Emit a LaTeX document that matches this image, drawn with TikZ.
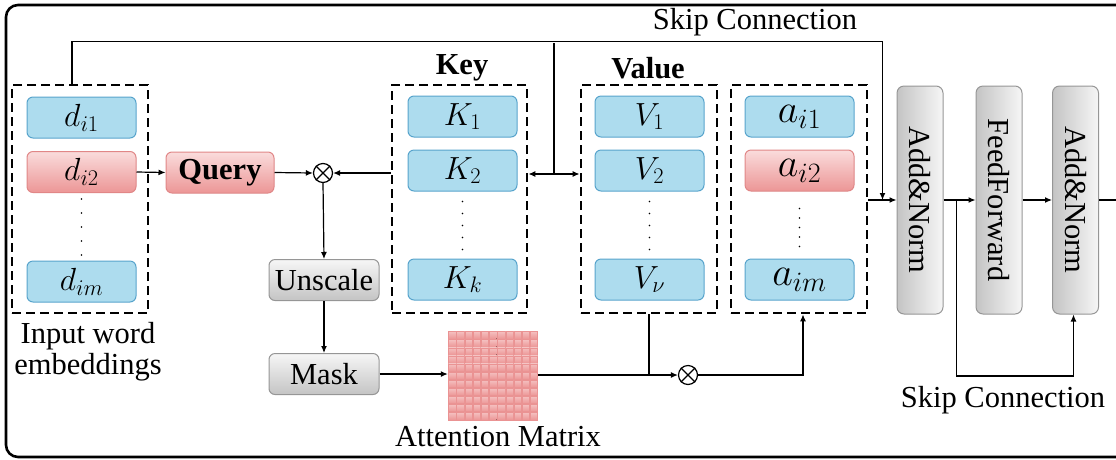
\RequirePackage{fix-cm}
\documentclass[tikz,border=0pt]{standalone}
\usepackage[no-math]{fontspec}
\setmainfont{Liberation Serif}
\usetikzlibrary{arrows.meta,shapes}

\definecolor{embfill}{RGB}{173,220,238}
\definecolor{embline}{RGB}{88,164,204}
\definecolor{qtop}{RGB}{250,220,220}
\definecolor{qbot}{RGB}{236,150,150}
\definecolor{qline}{RGB}{225,135,135}
\definecolor{gtop}{RGB}{246,246,246}
\definecolor{gbot}{RGB}{196,196,196}
\definecolor{gline}{RGB}{150,150,150}

\tikzset{
    every node/.style={font=\fontsize{30.5}{31}\selectfont},
    conn/.style={line width=1.2pt,-{Latex[length=7pt,width=6pt]}},
    wire/.style={line width=1.2pt},
    groupbox/.style={draw,line width=2.8pt,dash pattern=on 9pt off 5pt,
        minimum width=136pt,minimum height=228pt,inner sep=0pt},
    embbox/.style={draw=embline,fill=embfill,line width=1pt,rounded corners=6pt,
        minimum width=109pt,minimum height=41pt,inner sep=0pt,
        font=\fontsize{32}{34}\selectfont},
    hotbox/.style={embbox,draw=qline,top color=qtop,bottom color=qbot},
    opbox/.style={draw=gline,line width=1pt,rounded corners=6pt,top color=gtop,
        bottom color=gbot,minimum width=110pt,minimum height=41pt,inner sep=0pt},
    normbox/.style={draw=gline,line width=1pt,rounded corners=7pt,left color=gbot,
        right color=gtop,minimum width=46pt,minimum height=228pt,inner sep=0pt},
    mult/.style={draw,circle,line width=1.2pt,minimum size=19pt,inner sep=0pt},
    dotsline/.style={line width=1.8pt,line cap=round,dash pattern=on 0pt off 12pt},
}

\begin{document}
\begin{tikzpicture}[x=1pt,y=-1pt]

    \useasboundingbox (0,0) rectangle (1116,459);
    \draw[line width=2.6pt,rounded corners=12pt] (6,5) rectangle (1160,457);

    % groups
    \node[groupbox] (inbox) at (80,199) {};
    \node[groupbox,minimum width=135pt] (keybox) at (459.5,199) {};
    \node[groupbox] (valbox) at (649,199) {};
    \node[groupbox] (abox) at (799,199) {};

    \node[font=\fontsize{30.5}{31}\selectfont\bfseries] (keylbl) at (462,68) {Key};
    \node[font=\fontsize{30.5}{31}\selectfont\bfseries] (vallbl) at (648,68) {Value};
    \node[align=center] (inlbl) at (88,352) {Input word\\embeddings};

    % input word embeddings
    \node[embbox] (d1) at (81.5,117.5) {$d_{i1}$};
    \node[hotbox] (d2) at (81.5,172) {$d_{i2}$};
    \node[embbox] (dm) at (81.5,281.5) {$d_{im}$};
    \draw[dotsline,dash pattern=on 0pt off 14pt] ([yshift=-6pt]d2.south) -- ++(0,56.5);

    % keys
    \node[embbox] (k1) at (462.5,116.5) {$K_1$};
    \node[embbox] (k2) at (462.5,170.5) {$K_2$};
    \node[embbox] (kk) at (462.5,279.5) {$K_k$};
    \draw[dotsline] ([yshift=-10pt]k2.south) -- ++(0,48.5);

    % values
    \node[embbox] (v1) at (649.5,116.5) {$V_1$};
    \node[embbox] (v2) at (649.5,170.5) {$V_2$};
    \node[embbox] (vn) at (649.5,279.5) {$V_\nu$};
    \draw[dotsline] ([yshift=-10pt]v2.south) -- ++(0,48.5);

    % outputs
    \node[embbox,font=\fontsize{40}{42}\selectfont] (a1) at (799.5,116.5) {$a_{i1}$};
    \node[hotbox,font=\fontsize{40}{42}\selectfont] (a2) at (799.5,170.5) {$a_{i2}$};
    \node[embbox,font=\fontsize{40}{42}\selectfont] (am) at (799.5,279.5) {$a_{im}$};
    \draw[dotsline,dash pattern=on 0pt off 9.5pt] ([yshift=-17pt]a2.south) -- ++(0,38.2);

    % attention path
    \node[hotbox,minimum width=108pt,font=\fontsize{30.5}{31}\selectfont\bfseries] (query) at (220,172.5) {Query};
    \node[mult] (m1) at (323,173) {};
    \draw[line width=1.2pt] (m1.north west) -- (m1.south east) (m1.north east) -- (m1.south west);
    \node[opbox] (unscale) at (324,280) {Unscale};
    \node[opbox] (mask) at (324,374) {Mask};

    \node[minimum width=90pt,minimum height=89pt,inner sep=0pt] (attn) at (493,375.5) {};
    \foreach \i in {0,...,10}
        \foreach \j in {0,...,10}
            \filldraw[draw=qbot!80!qline,line width=0.4pt,top color=qtop!60!qbot,bottom color=qbot]
                (448.5+\i*8.18,331.5+\j*8.1) rectangle ++(7.3,7.2);
    \node (attnlbl) at (498,437) {Attention Matrix};

    \node[mult] (m2) at (688,375) {};
    \draw[line width=1.2pt] (m2.north west) -- (m2.south east) (m2.north east) -- (m2.south west);

    % add & norm, feed forward
    \node[normbox] (an1) at (920,200) {\rotatebox{-90}{Add\&Norm}};
    \node[normbox] (ff) at (999,200) {\rotatebox{-90}{FeedForward}};
    \node[normbox] (an2) at (1075.5,200) {\rotatebox{-90}{Add\&Norm}};

    \node (skiptop) at (755,22) {Skip Connection};
    \node (skipbot) at (1003,400) {Skip Connection};

    % Connect query
    \draw[conn] (d2.east) -- (query.west);
    \draw[conn] (query.east) -- (m1.west);
    \draw[conn] (keybox.west |- m1) -- (m1.east);
    \draw[conn] (m1.south) -- (unscale.north);
    \draw[conn] (unscale.south) -- (mask.north);
    \draw[conn] (mask.east) -- (mask.east -| attn.west);
    \draw[conn] (attn.east |- m2) -- (m2.west);
    \draw[wire] (valbox.south) -- (valbox.south |- m2);
    \draw[conn] (m2.east) -| ([xshift=4pt]abox.south);

    % skip connection over the top
    \coordinate (skipsrc) at ([xshift=-8pt]inbox.north);
    \coordinate (skipin) at ([xshift=-14pt]an1.west);
    \coordinate (kvsplit) at (554,43);
    \coordinate (kvjoin) at (554,174);
    \draw[conn] (skipsrc) -- ++(0,-42) -| (skipin);
    \draw[wire] (kvsplit) -- (kvjoin);
    \draw[conn] (kvjoin) -- (keybox.east |- kvjoin);
    \draw[conn] (kvjoin) -- (valbox.west |- kvjoin);

    % Connect the norm layers
    \draw[conn] (abox.east |- an1) -- (an1.west);
    \draw[conn] (an1.east) -- (ff.west);
    \draw[conn] (ff.east) -- (an2.west);
    \coordinate (ffsplit) at ([xshift=13pt]an1.east);
    \draw[conn] (ffsplit) -- ++(0,176) -| ([xshift=-2pt]an2.south);
    \coordinate (out) at (1116,200);
    \draw[wire] (an2.east) -- (out);

\end{tikzpicture}
\end{document}
